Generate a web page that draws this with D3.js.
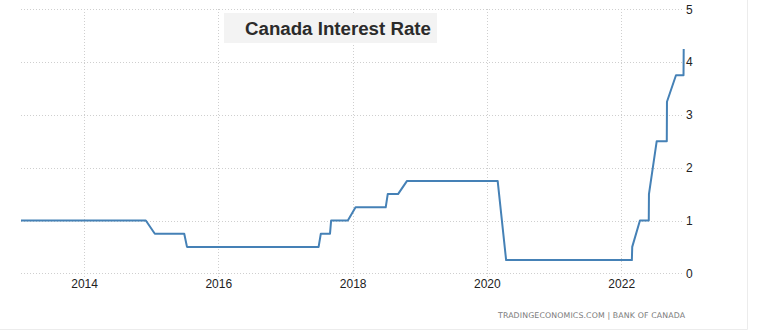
<!DOCTYPE html>
<html>
<head>
<meta charset="utf-8">
<script src="https://cdn.jsdelivr.net/npm/d3@7"></script>
<style>
  html, body { margin: 0; padding: 0; background: #fff; }
  svg { display: block; }
</style>
</head>
<body>
<svg id="chart" width="763" height="333"></svg>
<script>
// Bank of Canada overnight rate: dates of each vertex in the drawn line and the rate there (%)
const dates = [
  "2013-01-23", "2014-12-03", "2015-01-21", "2015-06-30", "2015-07-15",
  "2017-06-30", "2017-07-12", "2017-08-31", "2017-09-06", "2017-12-06",
  "2018-01-17", "2018-06-30", "2018-07-11", "2018-09-05", "2018-10-24",
  "2020-02-29", "2020-04-15", "2022-02-28", "2022-03-02", "2022-04-13",
  "2022-05-31", "2022-06-01", "2022-07-13", "2022-09-06", "2022-09-07",
  "2022-10-26", "2022-12-06", "2022-12-07"
];
const rates = [
  1.00, 1.00, 0.75, 0.75, 0.50,
  0.50, 0.75, 0.75, 1.00, 1.00,
  1.25, 1.25, 1.50, 1.50, 1.75,
  1.75, 0.25, 0.25, 0.50, 1.00,
  1.00, 1.50, 2.50, 2.50, 3.25,
  3.75, 3.75, 4.25
];
const yearTicks = [2014, 2016, 2018, 2020, 2022];
const rateTicks = [0, 1, 2, 3, 4, 5];

const titleText = "Canada Interest Rate";
const sourceText = "TRADINGECONOMICS.COM | BANK OF CANADA";

const parse = d3.timeParse("%Y-%m-%d");
const points = dates.map((d, i) => ({ date: parse(d), rate: rates[i] }));

const svg = d3.select("#chart");

const x = d3.scaleTime()
  .domain(d3.extent(points, d => d.date))
  .range([21, 683.7]);

const y = d3.scaleLinear()
  .domain([0, 5])
  .range([273.3, 9.3]);

const gridColor = "#cfcfcf";
const gridDash = "1,2";

// outer frame (right and bottom edges)
svg.append("line")
  .attr("x1", 747.5).attr("x2", 747.5).attr("y1", 0).attr("y2", 329.5)
  .attr("stroke", "#ececec").attr("stroke-width", 1);
svg.append("line")
  .attr("x1", 0).attr("x2", 747.5).attr("y1", 329.5).attr("y2", 329.5)
  .attr("stroke", "#ececec").attr("stroke-width", 1);

// horizontal grid + right-hand rate axis
const yAxis = d3.axisRight(y)
  .tickValues(rateTicks)
  .tickSize(0)
  .tickPadding(0)
  .tickFormat(d3.format("d"));

const yg = svg.append("g")
  .attr("transform", "translate(686,0)")
  .call(yAxis);
yg.select(".domain").remove();
yg.selectAll("text")
  .attr("x", 0)
  .attr("font-family", "Arial, 'Liberation Sans', sans-serif")
  .attr("font-size", 12)
  .attr("fill", "#222");

svg.append("g")
  .selectAll("line")
  .data(rateTicks)
  .join("line")
  .attr("x1", 21).attr("x2", 683)
  .attr("y1", d => Math.round(y(d)) + 0.5)
  .attr("y2", d => Math.round(y(d)) + 0.5)
  .attr("stroke", gridColor)
  .attr("stroke-dasharray", gridDash);

// vertical year grid + bottom axis
const yearDate = yr => new Date(yr, 0, 1);

svg.append("g")
  .selectAll("line")
  .data(yearTicks)
  .join("line")
  .attr("x1", d => Math.round(x(yearDate(d))) + 0.5)
  .attr("x2", d => Math.round(x(yearDate(d))) + 0.5)
  .attr("y1", 9).attr("y2", 277)
  .attr("stroke", gridColor)
  .attr("stroke-dasharray", gridDash);

const xAxis = d3.axisBottom(x)
  .tickValues(yearTicks.map(yearDate))
  .tickSize(0)
  .tickPadding(0)
  .tickFormat(d3.timeFormat("%Y"));

const xg = svg.append("g")
  .attr("transform", "translate(0,279)")
  .call(xAxis);
xg.select(".domain").remove();
xg.selectAll("text")
  .attr("font-family", "Arial, 'Liberation Sans', sans-serif")
  .attr("font-size", 12)
  .attr("fill", "#222");

// rate line
const line = d3.line()
  .x(d => x(d.date))
  .y(d => y(d.rate));

svg.append("path")
  .datum(points)
  .attr("d", line)
  .attr("fill", "none")
  .attr("stroke", "#4581b6")
  .attr("stroke-width", 2)
  .attr("stroke-linejoin", "round");

// title box
svg.append("rect")
  .attr("x", 224).attr("y", 13)
  .attr("width", 213).attr("height", 30)
  .attr("fill", "#f3f3f3");
svg.append("text")
  .attr("x", 245).attr("y", 35)
  .attr("font-family", "Arial, 'Liberation Sans', sans-serif")
  .attr("font-weight", "bold")
  .attr("font-size", 18.7)
  .attr("fill", "#2b2b2b")
  .text(titleText);

// source credit
svg.append("text")
  .attr("x", 498).attr("y", 317.5)
  .attr("font-family", "'DejaVu Sans', Verdana, sans-serif")
  .attr("font-size", 7.8)
  .attr("fill", "#7a7a7a")
  .attr("textLength", 187)
  .attr("lengthAdjust", "spacing")
  .text(sourceText);
</script>
</body>
</html>
